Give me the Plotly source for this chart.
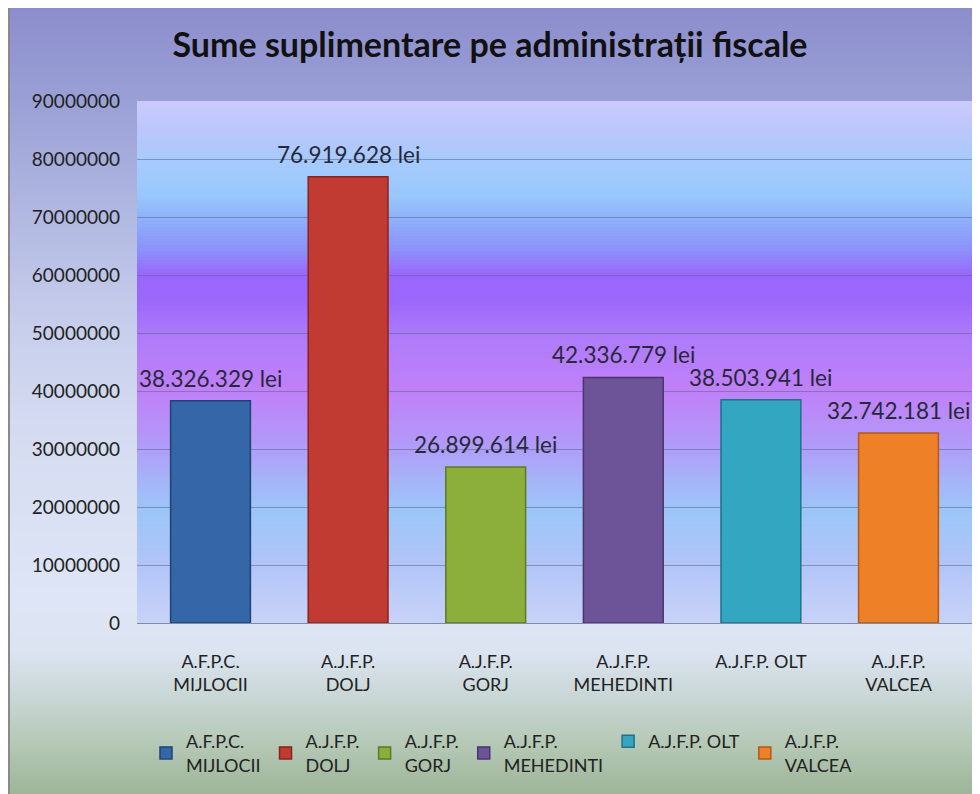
import plotly.graph_objects as go

# Data
categories = [
    "A.F.P.C.<br>MIJLOCII",
    "A.J.F.P.<br>DOLJ",
    "A.J.F.P.<br>GORJ",
    "A.J.F.P.<br>MEHEDINTI",
    "A.J.F.P. OLT",
    "A.J.F.P.<br>VALCEA",
]
values = [38326329, 76919628, 26899614, 42336779, 38503941, 32742181]
bar_colors = ["#3567a8", "#c23b32", "#8cae3a", "#6d5398", "#33a6c2", "#ee8128"]
edge_colors = ["#1f4474", "#8a231d", "#5e7a22", "#4a366c", "#1f7287", "#b2591a"]
y_ticks = list(range(0, 90000001, 10000000))

# page body keeps its default 8px margin, so the figure sits at (8, 8)
W, H = 972, 786
L, R, T, B = 129, 8, 93, 171
PW, PH = W - L - R, H - T - B

FONT = "Lato, 'Open Sans', sans-serif"


def hex_rgb(h):
    h = h.lstrip("#")
    return tuple(int(h[i:i + 2], 16) for i in (0, 2, 4))


def interp(stops, t):
    for (t0, c0), (t1, c1) in zip(stops, stops[1:]):
        if t0 <= t <= t1:
            f = 0 if t1 == t0 else (t - t0) / (t1 - t0)
            a, b = hex_rgb(c0), hex_rgb(c1)
            return "rgb(%d,%d,%d)" % tuple(round(a[i] + (b[i] - a[i]) * f) for i in range(3))
    return stops[-1][1]


# background gradient stops (pixel y in figure)
fig_stops = [
    (0, "#8c8dcc"), (92, "#9aa0d6"), (212, "#b2b9e2"), (322, "#c8cfec"),
    (442, "#d6ddf2"), (592, "#dee5f6"), (642, "#dce4f2"), (692, "#c8d6d4"),
    (742, "#b2c6b2"), (786, "#9db598"),
]
# plot-area gradient stops (pixel y from plot top)
plot_stops = [
    (0, "#cacafc"), (30, "#bcc6fc"), (57, "#a8cafc"), (95, "#98c8fc"),
    (118, "#8eb0fa"), (150, "#8c90fa"), (174, "#9966fc"), (200, "#9c68fc"),
    (240, "#b07cfa"), (290, "#c080f8"), (340, "#b298f8"), (380, "#a6b4f8"),
    (410, "#9cc6f8"), (460, "#b0c4f8"), (522, "#c8d2f8"),
]

shapes = []
step = 3
for py in range(0, H, step):
    y0 = (T + PH - py - step) / PH
    y1 = (T + PH - py) / PH
    shapes.append(dict(
        type="rect", xref="paper", yref="paper", layer="below",
        x0=(1 - L) / PW, x1=(W - L) / PW, y0=y0, y1=y1,
        fillcolor=interp(fig_stops, py + step / 2), line=dict(width=0),
    ))
for py in range(0, PH, step):
    y0 = max(0, (PH - py - step) / PH)
    y1 = (PH - py) / PH
    shapes.append(dict(
        type="rect", xref="paper", yref="paper", layer="below",
        x0=0, x1=1, y0=y0, y1=y1,
        fillcolor=interp(plot_stops, py + step / 2), line=dict(width=0),
    ))
# left border line
shapes.append(dict(
    type="line", xref="paper", yref="paper", layer="below",
    x0=(1 - L) / PW, x1=(1 - L) / PW, y0=(T + PH) / PH, y1=(T + PH - H) / PH,
    line=dict(color="#8a8a8a", width=2),
))

fig = go.Figure()
annotations = []
for cat, val, col, edge in zip(categories, values, bar_colors, edge_colors):
    fig.add_trace(go.Bar(
        x=[cat], y=[val], name=cat,
        marker=dict(color=col, line=dict(color=edge, width=1.5)),
        hovertemplate="%{y:,} lei<extra></extra>",
    ))
    # value label above each bar
    annotations.append(dict(
        x=cat, y=val, xref="x", yref="y",
        text=f"{val:,} lei".replace(",", "."),
        showarrow=False, yanchor="bottom", yshift=7,
        font=dict(family=FONT, size=22.5, color="#27283a"),
    ))

fig.update_layout(
    width=W, height=H,
    margin=dict(l=L, r=R, t=T, b=B),
    paper_bgcolor="white",
    plot_bgcolor="rgba(0,0,0,0)",
    barmode="overlay",
    bargap=0.42,
    shapes=shapes,
    annotations=annotations,
    font=dict(family=FONT, color="#222"),
    title=dict(
        text="<b>Sume suplimentare pe administrații fiscale</b>",
        x=490 / W - 8 / W, xref="container", xanchor="center",
        y=1 - 37 / H, yref="container", yanchor="middle",
        font=dict(family=FONT, size=34, color="#111"),
    ),
    xaxis=dict(
        categoryorder="array", categoryarray=categories,
        tickfont=dict(family=FONT, size=18, color="#222"),
        showgrid=False, ticks="", ticklabelstandoff=26,
        showline=False,
    ),
    yaxis=dict(
        range=[0, 90000000], tickvals=y_ticks,
        ticktext=[str(v) for v in y_ticks],
        tickfont=dict(family=FONT, size=19, color="#222"),
        showgrid=True, gridcolor="rgba(90,100,140,0.55)", gridwidth=1,
        zeroline=True, zerolinecolor="rgba(110,115,140,0.8)", zerolinewidth=1,
        ticks="", ticklabelstandoff=16,
    ),
    legend=dict(
        orientation="h", xref="container", yref="container",
        x=494 / W, xanchor="center", y=1 - 715 / H, yanchor="top",
        font=dict(family=FONT, size=18, color="#222"),
        bgcolor="rgba(0,0,0,0)", itemclick=False,
    ),
    showlegend=True,
)

fig.write_html("out.html")
